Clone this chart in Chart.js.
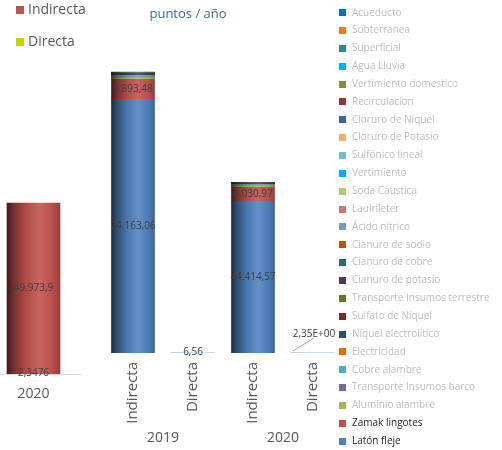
<!DOCTYPE html>
<html>
<head>
<meta charset="utf-8">
<script src="https://cdn.jsdelivr.net/npm/chart.js@4.4.1/dist/chart.umd.min.js"></script>
<style>
  html, body { margin: 0; padding: 0; background: #fff; }
  #wrap { position: relative; width: 502px; height: 450px; }
  #wrap canvas { position: absolute; top: 0; left: 0; }
</style>
</head>
<body>
<div id="wrap">
  <canvas id="resumen" width="100" height="450"></canvas>
  <canvas id="detalle" width="502" height="450"></canvas>
</div>
<script>
// Huella por tipo de impacto y por insumo (puntos / año)

const FONT = "'Open Sans', 'Noto Sans', sans-serif";

// Panel izquierdo: total por tipo de impacto
const resumenCategorias = ['2020'];
const resumenIndirecta = [49973.9];
const resumenDirecta = [2.3476];

// Panel derecho: aporte por insumo, año y tipo de impacto
const years = ['2019', '2020'];
const categories = ['Indirecta', 'Directa', 'Indirecta', 'Directa'];

// series (de abajo hacia arriba en la pila)
const latonFleje = [74163.06, 6.56, 44414.57, 2.35];
const zamakLingotes = [5893.48, null, 4030.97, null];
const aluminioAlambre = [620, null, 480, null];
const transporteBarco = [180, null, 110, null];
const cobreAlambre = [300, null, 190, null];
const electricidad = [60, null, 40, null];
const niquelElectrolitico = [300, null, 230, null];
const sulfatoNiquel = [280, null, 240, null];
const transporteTerrestre = [40, null, 25, null];
const cianuroPotasio = [20, null, 10, null];
const cianuroCobre = [30, null, 15, null];
const cianuroSodio = [20, null, 10, null];
const acidoNitrico = [40, null, 20, null];
const lauirileter = [10, null, 5, null];
const sodaCaustica = [30, null, 15, null];
const vertimiento = [5, null, 3, null];
const sulfonicoLineal = [10, null, 5, null];
const cloruroPotasio = [10, null, 5, null];
const cloruroNiquel = [60, null, 30, null];
const recirculacion = [5, null, 3, null];
const vertimientoDomestico = [5, null, 3, null];
const aguaLluvia = [2, null, 1, null];
const superficial = [2, null, 1, null];
const subterranea = [10, null, 5, null];
const acueducto = [40, null, 25, null];

const series = [
  ['Latón fleje', latonFleje, '#4F81BD', true],
  ['Zamak lingotes', zamakLingotes, '#C0504D', true],
  ['Aluminio alambre', aluminioAlambre, '#9BBB59'],
  ['Transporte Insumos barco', transporteBarco, '#8064A2'],
  ['Cobre alambre', cobreAlambre, '#4BACC6'],
  ['Electricidad', electricidad, '#E46C0A'],
  ['Níquel electrolítico', niquelElectrolitico, '#2C4D75'],
  ['Sulfato de Níquel', sulfatoNiquel, '#772C2A'],
  ['Transporte Insumos terrestre', transporteTerrestre, '#5F7530'],
  ['Cianuro de potasio', cianuroPotasio, '#4D3B62'],
  ['Cianuro de cobre', cianuroCobre, '#276A7C'],
  ['Cianuro de sodio', cianuroSodio, '#B65708'],
  ['Ácido nítrico', acidoNitrico, '#729ACA'],
  ['Lauirileter', lauirileter, '#CD7371'],
  ['Soda Cáustica', sodaCaustica, '#AFC97A'],
  ['Vertimiento', vertimiento, '#00B0F0'],
  ['Sulfónico lineal', sulfonicoLineal, '#6FBDD1'],
  ['Cloruro de Potasio', cloruroPotasio, '#F9AB6B'],
  ['Cloruro de Níquel', cloruroNiquel, '#3A6699'],
  ['Recirculacion', recirculacion, '#953735'],
  ['Vertimiento domestico', vertimientoDomestico, '#77933C'],
  ['Agua Lluvia', aguaLluvia, '#00B0F0'],
  ['Superficial', superficial, '#31859C'],
  ['Subterranea', subterranea, '#F67B16'],
  ['Acueducto', acueducto, '#0070C0']
];

// formato español: 74.163,06
function fmtEs(v, dec) {
  const parts = v.toFixed(dec).split('.');
  const ent = parts[0].replace(/\B(?=(\d{3})+(?!\d))/g, '.');
  return parts[1] ? ent + ',' + parts[1] : ent;
}

// formato científico: 2,35E+00
function fmtExp(v) {
  const parts = v.toExponential(2).split('e');
  const e = parseInt(parts[1]);
  return parts[0].replace('.', ',') + 'E' + (e < 0 ? '-' : '+') + String(Math.abs(e)).padStart(2, '0');
}

function shade(hex, f) {
  const n = parseInt(hex.slice(1), 16);
  let r = n >> 16, g = (n >> 8) & 255, b = n & 255;
  if (f <= 1) {
    r *= f; g *= f; b *= f;
  } else {
    const t = f - 1;
    r += (255 - r) * t; g += (255 - g) * t; b += (255 - b) * t;
  }
  return `rgb(${Math.round(r)},${Math.round(g)},${Math.round(b)})`;
}

// relleno tipo cilindro (sombra horizontal)
function cylinder(context, hex, width) {
  const chart = context.chart;
  const xs = chart.scales.x;
  if (!xs || !chart.chartArea || context.dataIndex === undefined) return hex;
  const cx = xs.getPixelForValue(context.dataIndex);
  const g = chart.ctx.createLinearGradient(cx - width / 2, 0, cx + width / 2, 0);
  g.addColorStop(0, shade(hex, 0.33));
  g.addColorStop(0.12, shade(hex, 0.6));
  g.addColorStop(0.35, shade(hex, 0.92));
  g.addColorStop(0.62, shade(hex, 1.12));
  g.addColorStop(0.85, shade(hex, 0.98));
  g.addColorStop(1, shade(hex, 0.78));
  return g;
}

function drawLabel(ctx, text, x, y, size, color) {
  ctx.save();
  ctx.font = `${size}px ${FONT}`;
  ctx.fillStyle = color;
  ctx.textAlign = 'center';
  ctx.textBaseline = 'middle';
  ctx.fillText(text, x, y);
  ctx.restore();
}

// ---------- panel izquierdo ----------
const resumenPlugin = {
  id: 'resumenExtras',
  afterDraw(chart) {
    const ctx = chart.ctx;
    // línea base
    ctx.save();
    ctx.strokeStyle = '#D9D9D9';
    ctx.lineWidth = 1;
    const yb = Math.round(chart.scales.y.getPixelForValue(0)) + 0.5;
    ctx.beginPath();
    ctx.moveTo(0, yb);
    ctx.lineTo(82, yb);
    ctx.stroke();
    ctx.restore();

    // etiquetas de valor
    chart.data.datasets.forEach((ds, di) => {
      const meta = chart.getDatasetMeta(di);
      meta.data.forEach((el, i) => {
        const v = ds.data[i];
        if (v === null) return;
        const h = el.base - el.y;
        const y = h > 14 ? (el.y + el.base) / 2 : el.base - 1;
        drawLabel(ctx, fmtEs(v, ds.decimals), el.x, y, 10, '#404040');
      });
    });

    // leyenda
    ctx.save();
    ctx.font = `14px ${FONT}`;
    ctx.textBaseline = 'middle';
    chart.data.datasets.forEach((ds, i) => {
      const y = 10 + i * 32;
      ctx.fillStyle = ds.legendColor;
      ctx.fillRect(16, y - 4, 8, 8);
      ctx.fillStyle = '#595959';
      ctx.fillText(ds.label, 28, y);
    });
    ctx.restore();
  }
};

new Chart(document.getElementById('resumen'), {
  type: 'bar',
  data: {
    labels: resumenCategorias,
    datasets: [
      {
        label: 'Indirecta',
        data: resumenIndirecta,
        decimals: 1,
        legendColor: '#C0504D',
        backgroundColor: c => cylinder(c, '#C0504D', 53)
      },
      {
        label: 'Directa',
        data: resumenDirecta,
        decimals: 4,
        legendColor: '#C5D300',
        backgroundColor: c => cylinder(c, '#C5D300', 53)
      }
    ]
  },
  options: {
    responsive: false,
    animation: false,
    layout: { padding: { left: 0, right: 33, top: 32, bottom: 0 } },
    datasets: { bar: { barThickness: 53, grouped: false } },
    plugins: { legend: { display: false }, tooltip: { enabled: false } },
    scales: {
      x: {
        grid: { display: false, drawTicks: false },
        border: { display: false },
        ticks: { color: '#595959', padding: 12, font: { family: FONT, size: 14 } },
        afterFit: s => { s.height = 76; }
      },
      y: { display: false, min: 0, max: 100000 }
    }
  },
  plugins: [resumenPlugin]
});

// ---------- panel derecho ----------
const detallePlugin = {
  id: 'detalleExtras',
  afterDraw(chart) {
    const ctx = chart.ctx;
    const xs = chart.scales.x;

    // título
    drawLabel(ctx, 'puntos / año', 188, 14, 13, '#44679A');

    // etiquetas de valor
    chart.data.datasets.forEach((ds, di) => {
      if (!ds.showLabels) return;
      const meta = chart.getDatasetMeta(di);
      meta.data.forEach((el, i) => {
        const v = ds.data[i];
        if (v === null || v === undefined) return;
        const h = el.base - el.y;
        if (h > 12) {
          drawLabel(ctx, fmtEs(v, 2), el.x, (el.y + el.base) / 2, 10, '#404040');
        } else if (ds.expFormat && ds.expFormat[i]) {
          // etiqueta desplazada con línea guía
          ctx.save();
          ctx.strokeStyle = '#A6A6A6';
          ctx.lineWidth = 1;
          ctx.beginPath();
          ctx.moveTo(el.x - 20, el.base - 2);
          ctx.lineTo(el.x + 1, el.base - 15);
          ctx.stroke();
          ctx.restore();
          drawLabel(ctx, fmtExp(v), el.x + 1, el.base - 19, 10, '#404040');
        } else {
          drawLabel(ctx, fmtEs(v, 2), el.x, el.base - 1, 10, '#404040');
        }
      });
    });

    // años bajo las categorías
    years.forEach((yr, i) => {
      const x = (xs.getPixelForValue(i * 2) + xs.getPixelForValue(i * 2 + 1)) / 2;
      drawLabel(ctx, yr, x, 438, 14, '#595959');
    });

    // leyenda (de arriba hacia abajo = cima de la pila primero)
    ctx.save();
    ctx.font = `10px ${FONT}`;
    ctx.textBaseline = 'middle';
    const list = chart.data.datasets.slice().reverse();
    list.forEach((ds, i) => {
      const y = 12.7 + i * 17.85;
      ctx.fillStyle = ds.legendColor;
      ctx.fillRect(339, Math.round(y - 3.5), 7, 7);
      ctx.fillStyle = ds.showLabels ? '#262626' : '#BFBFBF';
      ctx.fillText(ds.label, 352, y);
    });
    ctx.restore();
  }
};

new Chart(document.getElementById('detalle'), {
  type: 'bar',
  data: {
    labels: categories,
    datasets: series.map(s => ({
      label: s[0],
      data: s[1],
      legendColor: s[2],
      showLabels: !!s[3],
      expFormat: s[0] === 'Latón fleje' ? [false, false, false, true] : null,
      backgroundColor: c => cylinder(c, s[2], 43)
    }))
  },
  options: {
    responsive: false,
    animation: false,
    layout: { padding: { left: 103, right: 159, top: 11, bottom: 0 } },
    datasets: { bar: { barThickness: 43 } },
    plugins: { legend: { display: false }, tooltip: { enabled: false } },
    scales: {
      x: {
        stacked: true,
        grid: { display: false, drawTicks: false },
        border: { display: false },
        ticks: {
          autoSkip: false,
          minRotation: 90,
          maxRotation: 90,
          padding: 9,
          color: '#595959',
          font: { family: FONT, size: 15 }
        },
        afterFit: s => { s.height = 97; }
      },
      y: { stacked: true, display: false, min: 0, max: 100000 }
    }
  },
  plugins: [detallePlugin]
});
</script>
</body>
</html>
